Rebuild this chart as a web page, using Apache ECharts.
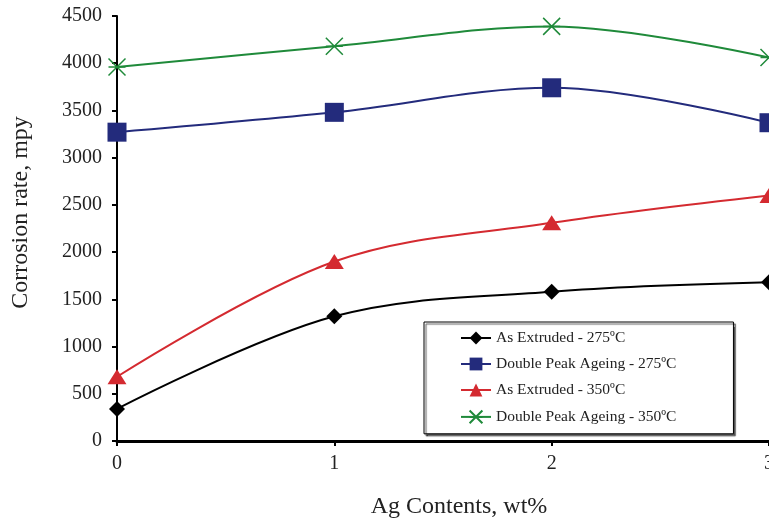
<!DOCTYPE html>
<html>
<head>
<meta charset="utf-8">
<script src="https://cdn.jsdelivr.net/npm/echarts@6/dist/echarts.min.js"></script>
<style>
  html, body { margin: 0; padding: 0; background: #fff; }
  #chart { width: 769px; height: 519px; }
</style>
</head>
<body>
<div id="chart"></div>
<script>
// Ag content (wt%) on the x axis
const agContents = [0, 1, 2, 3];
// Corrosion rates (mpy) for each processing condition
const asExtruded275 = [340, 1320, 1580, 1680];
const doublePeak275 = [3270, 3480, 3740, 3370];
const asExtruded350 = [680, 1900, 2310, 2600];
const doublePeak350 = [3960, 4180, 4390, 4060];

const seriesNames = [
  'As Extruded - 275ºC',
  'Double Peak Ageing - 275ºC',
  'As Extruded - 350ºC',
  'Double Peak Ageing - 350ºC'
];

const pairs = v => agContents.map((x, i) => [x, v[i]]);
const serif = '"Liberation Serif", "DejaVu Serif", serif';

const chart = echarts.init(document.getElementById('chart'));

function lineSeries(name, data, color, symbol, size) {
  return {
    name, type: 'line', data: pairs(data), smooth: 0.35,
    symbol, symbolSize: size, clip: false,
    lineStyle: { color, width: 2 },
    itemStyle: { color, borderWidth: 0 },
    emphasis: { disabled: true }
  };
}

chart.setOption({
  animation: false,
  grid: { left: 117, right: 0, top: 16, bottom: 78, containLabel: false, outerBoundsMode: 'none' },
  xAxis: {
    type: 'value', min: 0, max: 3, interval: 1,
    name: 'Ag Contents, wt%', nameLocation: 'middle', nameGap: 54,
    nameTextStyle: { fontFamily: serif, fontSize: 24, color: '#222', padding: [0, 0, 0, 32] },
    axisLine: { lineStyle: { color: '#000', width: 3 } },
    axisTick: { show: true, length: 5, lineStyle: { color: '#000', width: 2 } },
    axisLabel: { fontFamily: serif, fontSize: 20, color: '#222', margin: 13, showMaxLabel: true },
    splitLine: { show: false }
  },
  yAxis: {
    type: 'value', min: 0, max: 4500, interval: 500,
    name: 'Corrosion rate, mpy', nameLocation: 'middle', nameGap: 84,
    nameTextStyle: { fontFamily: serif, fontSize: 24, color: '#222', padding: [0, 0, 0, 32] },
    axisLine: { show: true, lineStyle: { color: '#000', width: 2 } },
    axisTick: { show: true, length: 5, lineStyle: { color: '#000', width: 2 } },
    axisLabel: {
      fontFamily: serif, fontSize: 20, color: '#222', margin: 15,
      formatter: v => String(v)
    },
    splitLine: { show: false }
  },
  legend: {
    orient: 'vertical', left: 424, top: 322,
    padding: [8, 57, 8, 36], itemGap: 10,
    itemWidth: 30, itemHeight: 16,
    backgroundColor: '#fff',
    borderColor: '#000', borderWidth: 1,
    shadowColor: 'rgba(0,0,0,0.65)', shadowOffsetX: 2, shadowOffsetY: 2, shadowBlur: 1,
    textStyle: { fontFamily: serif, fontSize: 15.5, color: '#222' },
    data: seriesNames
  },
  series: [
    lineSeries(seriesNames[0], asExtruded275, '#000000', 'diamond', 16),
    lineSeries(seriesNames[1], doublePeak275, '#232b7c', 'rect', 19),
    lineSeries(seriesNames[2], asExtruded350, '#d42a30', 'triangle', [19, 15]),
    Object.assign(lineSeries(seriesNames[3], doublePeak350, '#1f8a3a', 'path://M0,0 L10,10 M10,0 L0,10 M0,5 L10,5', 17), {
      itemStyle: { color: 'none', borderColor: '#1f8a3a', borderWidth: 1.5 }
    })
  ]
});
</script>
</body>
</html>
